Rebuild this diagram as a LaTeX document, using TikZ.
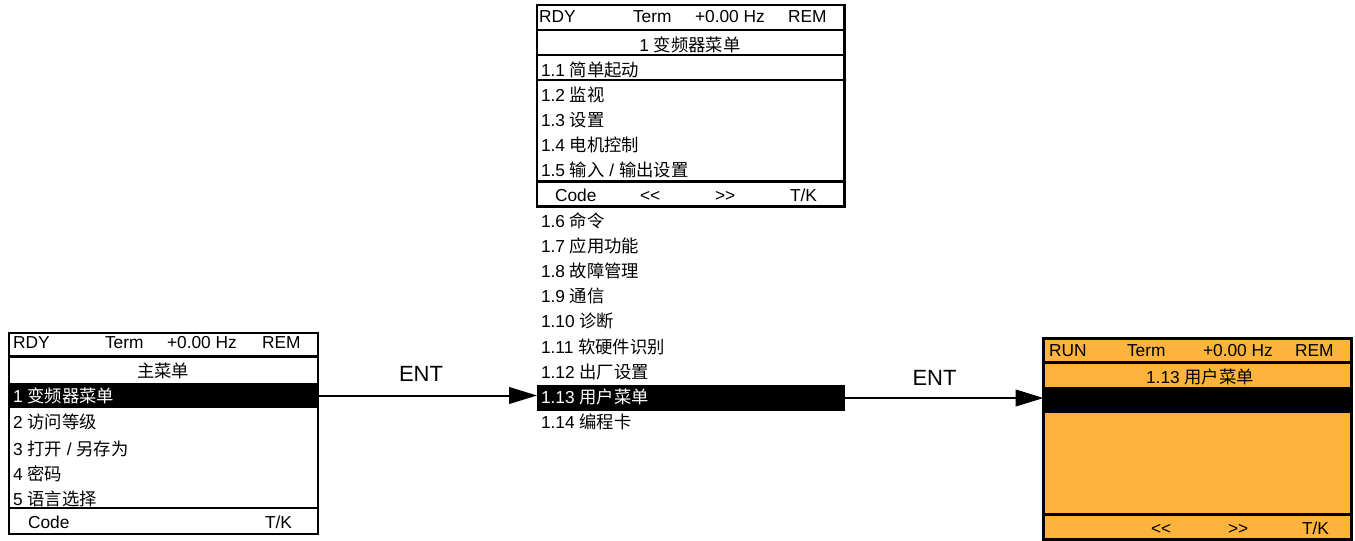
\documentclass[tikz,border=0pt]{standalone}
\usepackage{fontspec}
\setmainfont{Liberation Sans}
\newfontfamily\cjk{Noto Sans CJK SC}
\newcommand{\zh}[1]{{\cjk #1}}
\usetikzlibrary{arrows.meta,fit}
\definecolor{panelorange}{RGB}{252,180,60}
\begin{document}
\begin{tikzpicture}[x=0.75pt,y=-0.75pt,
  txt/.style={inner sep=0pt, outer sep=0pt, anchor=base west, font=\fontsize{13pt}{15pt}\selectfont},
  ctxt/.style={txt, anchor=base},
  inv/.style={text=white},
  frame/.style={draw=black, line width=2pt},
  sep/.style={draw=black, line width=2pt},
  thinsep/.style={draw=black, line width=1pt},
  bar/.style={fill=black, inner sep=0pt, outer sep=0pt},
  keylabel/.style={inner sep=0pt, anchor=base, font=\fontsize{16.5pt}{18pt}\selectfont},
  entarrow/.style={line width=1.5pt, -{Triangle[length=21pt,width=12.5pt]}},
]
\useasboundingbox (0,0) rectangle (1355,540);

% ---------- left panel: main menu ----------
\node[bar, fit={(9,383) (318,408)}] (hlA) {};
\draw[frame] (9,333) rectangle (318,534);
\draw[sep] (8,356.5) -- (318,356.5);
\draw[sep] (8,508) -- (318,508);
\node[txt] (lh1) at (13,348) {RDY};
\node[txt] (lh2) at (105,348) {Term};
\node[txt] (lh3) at (167,348) {+0.00 Hz};
\node[txt] (lh4) at (262,348) {REM};
\node[ctxt] (lt) at (163,377) {\zh{主菜单}};
\node[txt, inv] (lr1) at (13,402) {1 \zh{变频器菜单}};
\node[txt] (lr2) at (13,428.5) {2 \zh{访问等级}};
\node[txt] (lr3) at (13,455) {3 \zh{打开} / \zh{另存为}};
\node[txt] (lr4) at (13,480) {4 \zh{密码}};
\node[txt] (lr5) at (13,505) {5 \zh{语言选择}};
\node[txt] (lf1) at (28,528) {Code};
\node[txt] (lf2) at (265,528) {T/K};

% ---------- middle panel: drive menu ----------
\draw[frame] (537,5) rectangle (844.5,206.5);
\draw[sep] (537,30) -- (844.5,30);
\draw[sep] (537,55) -- (844.5,55);
\draw[thinsep] (537,80) -- (844.5,80);
\draw[sep] (537,181.5) -- (844.5,181.5);
\node[txt] (mh1) at (539,22.7) {RDY};
\node[txt] (mh2) at (633,22.7) {Term};
\node[txt] (mh3) at (695,22.7) {+0.00 Hz};
\node[txt] (mh4) at (788,22.7) {REM};
\node[ctxt] (mt) at (690,51.7) {1 \zh{变频器菜单}};
\node[txt] (m1) at (541,76.7) {1.1 \zh{简单起动}};
\node[txt] (m2) at (541,101.7) {1.2 \zh{监视}};
\node[txt] (m3) at (541,126.7) {1.3 \zh{设置}};
\node[txt] (m4) at (541,151.7) {1.4 \zh{电机控制}};
\node[txt] (m5) at (541,176.7) {1.5 \zh{输入} / \zh{输出设置}};
\node[txt] (mf1) at (555,201.7) {Code};
\node[txt] (mf2) at (640,201.7) {<{}<};
\node[txt] (mf3) at (715,201.7) {>{}>};
\node[txt] (mf4) at (790,201.7) {T/K};

\node[bar, fit={(537,385) (844.5,411)}] (hlB) {};
\node[txt] (m6) at (541,227) {1.6 \zh{命令}};
\node[txt] (m7) at (541,252) {1.7 \zh{应用功能}};
\node[txt] (m8) at (541,277) {1.8 \zh{故障管理}};
\node[txt] (m9) at (541,302) {1.9 \zh{通信}};
\node[txt] (m10) at (541,327.5) {1.10 \zh{诊断}};
\node[txt] (m11) at (541,353) {1.11 \zh{软硬件识别}};
\node[txt] (m12) at (541,378) {1.12 \zh{出厂设置}};
\node[txt, inv] (m13) at (541,403) {1.13 \zh{用户菜单}};
\node[txt] (m14) at (541,428) {1.14 \zh{编程卡}};

% ---------- right panel: user menu ----------
\fill[panelorange] (1043.5,338.5) rectangle (1351.5,539.5);
\node[bar, fit={(1043.5,387) (1351.5,413)}] (hlC) {};
\draw[frame] (1043.5,338.5) rectangle (1351.5,539.5);
\draw[sep] (1043.5,362.5) -- (1351.5,362.5);
\draw[sep] (1043.5,514.5) -- (1351.5,514.5);
\node[txt] (rh1) at (1049,356.7) {RUN};
\node[txt] (rh2) at (1127,356.7) {Term};
\node[txt] (rh3) at (1203,356.7) {+0.00 Hz};
\node[txt] (rh4) at (1295,356.7) {REM};
\node[ctxt] (rt) at (1200,383.3) {1.13 \zh{用户菜单}};
\node[txt] (rf2) at (1151,534) {<{}<};
\node[txt] (rf3) at (1228,534) {>{}>};
\node[txt] (rf4) at (1302,534) {T/K};

% ---------- connectors ----------
\draw[entarrow] (hlA.east) -- (hlA.east -| hlB.west);
\node[keylabel] (ent1) at (421,381.7) {ENT};
\draw[entarrow] (hlB.east) -- (hlB.east -| hlC.west);
\node[keylabel] (ent2) at (934.5,385) {ENT};
\end{tikzpicture}
\end{document}
